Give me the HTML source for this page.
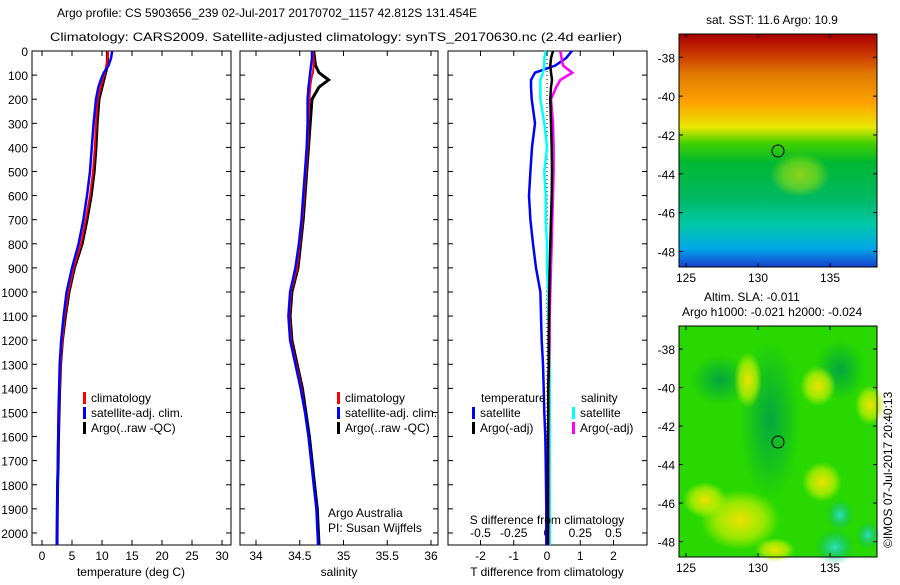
<!DOCTYPE html>
<html><head><meta charset="utf-8"><style>
body{margin:0;background:#fff;width:900px;height:580px;overflow:hidden;font-family:"Liberation Sans",sans-serif}
svg text{font-family:"Liberation Sans",sans-serif;font-size:12px;fill:#000}
</style></head><body>
<svg id="c" width="900" height="580">
<defs>
<linearGradient id="sst" x1="0" y1="0" x2="0" y2="1">
<stop offset="0" stop-color="#a80000"/><stop offset="0.08" stop-color="#c83000"/><stop offset="0.17" stop-color="#e07800"/>
<stop offset="0.3" stop-color="#ffa400"/><stop offset="0.4" stop-color="#e8e800"/><stop offset="0.47" stop-color="#40d000"/>
<stop offset="0.55" stop-color="#00b830"/><stop offset="0.7" stop-color="#00b860"/><stop offset="0.82" stop-color="#00c8a8"/>
<stop offset="0.92" stop-color="#00a8e8"/><stop offset="1" stop-color="#1840d0"/></linearGradient>
<radialGradient id="yb"><stop offset="0" stop-color="#f0e000"/><stop offset="0.6" stop-color="#c8f000" stop-opacity="0.7"/><stop offset="1" stop-color="#c8f000" stop-opacity="0"/></radialGradient>
<radialGradient id="gb"><stop offset="0" stop-color="#00a840"/><stop offset="1" stop-color="#00a840" stop-opacity="0"/></radialGradient>
<radialGradient id="cb"><stop offset="0" stop-color="#30e0c0"/><stop offset="1" stop-color="#00b080" stop-opacity="0"/></radialGradient>
</defs>
<text x="57" y="17" font-size="13" textLength="420" lengthAdjust="spacingAndGlyphs">Argo profile: CS 5903656_239 02-Jul-2017 20170702_1157 42.812S 131.454E</text>
<text x="50" y="41" font-size="14" textLength="572" lengthAdjust="spacingAndGlyphs">Climatology: CARS2009. Satellite-adjusted climatology: synTS_20170630.nc (2.4d earlier)</text>
<g id="p1"></g>
<g id="p2"></g>
<g id="p3"></g>
<g>
<text x="706" y="24">sat. SST: 11.6 Argo: 10.9</text>
<rect x="679" y="34" width="198" height="233" fill="url(#sst)"/>
<ellipse cx="800" cy="175" rx="30" ry="22" fill="url(#yb)" opacity="0.6"/>
<circle cx="778" cy="151" r="6" fill="none" stroke="#000"/>
<rect x="679" y="34" width="198" height="233" fill="none" stroke="#000"/>
</g>
<g>
<text x="704" y="301">Altim. SLA: -0.011</text>
<text x="682" y="316">Argo h1000: -0.021 h2000: -0.024</text>
<rect x="679" y="326" width="198" height="231" fill="#28d800"/>
<ellipse cx="770" cy="420" rx="30" ry="80" fill="url(#gb)"/><ellipse cx="720" cy="380" rx="30" ry="25" fill="url(#gb)"/>
<ellipse cx="840" cy="370" rx="25" ry="30" fill="url(#gb)"/>
<ellipse cx="748" cy="380" rx="14" ry="28" fill="url(#yb)"/><ellipse cx="818" cy="386" rx="18" ry="20" fill="url(#yb)"/>
<ellipse cx="870" cy="405" rx="15" ry="20" fill="url(#yb)"/><ellipse cx="822" cy="482" rx="20" ry="20" fill="url(#yb)"/>
<ellipse cx="740" cy="520" rx="40" ry="30" fill="url(#yb)"/><ellipse cx="775" cy="550" rx="20" ry="12" fill="url(#yb)"/>
<ellipse cx="705" cy="500" rx="22" ry="18" fill="url(#yb)"/>
<ellipse cx="835" cy="547" rx="20" ry="18" fill="url(#cb)"/><ellipse cx="840" cy="515" rx="14" ry="16" fill="url(#cb)"/>
<ellipse cx="868" cy="535" rx="12" ry="14" fill="url(#cb)"/>
<circle cx="778" cy="442" r="6" fill="none" stroke="#000"/>
<rect x="679" y="326" width="198" height="231" fill="none" stroke="#000"/>
</g>
<g id="maps"></g>
<text transform="translate(892,548) rotate(-90)" font-size="12">©IMOS 07-Jul-2017 20:40:13</text>
</svg>
<script>
const depths=[0,30,60,90,120,150,200,300,400,500,600,700,800,900,1000,1100,1200,1300,1400,1500,1600,1700,1800,1900,2050];
const tClim=[11,10.9,10.7,10.5,10.1,9.8,9.3,9,8.8,8.5,8,7.3,6.5,5.3,4.4,3.8,3.4,3.1,2.95,2.85,2.75,2.7,2.6,2.55,2.5];
const tSat=[11.7,11.5,11.1,10.3,9.8,9.4,9,8.6,8.3,8,7.5,6.9,6.1,5.0,4.1,3.6,3.2,2.95,2.85,2.75,2.7,2.65,2.6,2.55,2.5];
const tArgo=[10.9,10.9,10.9,10.6,10.3,10,9.5,9.2,9,8.7,8.2,7.5,6.7,5.4,4.5,3.9,3.4,3.1,2.95,2.85,2.75,2.7,2.6,2.55,2.5];
const sClim=[34.65,34.66,34.66,34.65,34.63,34.62,34.61,34.6,34.59,34.57,34.55,34.53,34.5,34.47,34.4,34.38,34.4,34.46,34.52,34.56,34.6,34.63,34.66,34.69,34.71];
const sSat=[34.64,34.64,34.63,34.62,34.61,34.6,34.59,34.59,34.58,34.56,34.54,34.52,34.49,34.45,34.39,34.37,34.39,34.45,34.51,34.56,34.6,34.63,34.66,34.69,34.71];
const sArgo=[34.66,34.67,34.68,34.72,34.83,34.72,34.64,34.62,34.6,34.58,34.56,34.54,34.51,34.48,34.41,34.39,34.41,34.47,34.53,34.57,34.61,34.64,34.67,34.7,34.72];
const dTsat=[0.75,0.57,0.25,-0.36,-0.48,-0.48,-0.46,-0.36,-0.45,-0.5,-0.54,-0.5,-0.42,-0.33,-0.2,-0.18,-0.16,-0.12,-0.1,-0.08,-0.05,-0.04,-0.03,-0.02,-0.02];
const dTargo=[0.18,0.12,0.1,0.12,0.15,0.12,0.1,0.12,0.14,0.15,0.14,0.12,0.1,0.08,0.07,0.06,0.05,0.05,0.04,0.04,0.03,0.03,0.03,0.03,0.03];
const dSsat=[-0.01,-0.02,-0.02,-0.03,-0.05,-0.05,-0.05,-0.02,0,-0.02,-0.01,-0.01,0,0,0.01,0.01,0.02,0.02,0.02,0.02,0.02,0.02,0.02,0.02,0.02];
const dSargo=[0.1,0.11,0.12,0.19,0.1,0.07,0.03,0.045,0.05,0.05,0.045,0.04,0.035,0.03,0.025,0.02,0.02,0.015,0.01,0.01,0.01,0.01,0.01,0.01,0.01];
const depthTicks=[0,100,200,300,400,500,600,700,800,900,1000,1100,1200,1300,1400,1500,1600,1700,1800,1900,2000];
const tTicks=[0,5,10,15,20,25,30];
const sTicks=[34,34.5,35,35.5,36];
const sTickLabels=["34","34.5","35","35.5","36"];
const dTTicks=[-2,-1,0,1,2];
const dSTicks=[-0.5,-0.25,0,0.25,0.5];
const dSLabels=["-0.5","-0.25","0","0.25","0.5"];
const lonTicks=[125,130,135];
const latTicks=[-38,-40,-42,-44,-46,-48];
const NS="http://www.w3.org/2000/svg";
function el(p,t,a){const e=document.createElementNS(NS,t);for(const k in a)e.setAttribute(k,a[k]);p.appendChild(e);return e;}
const Y0=51,Y1=545,yD=d=>Y0+d*(Y1-Y0)/2050;
function frame(g,x0,x1){const r=el(g,'rect',{x:x0,y:Y0,width:x1-x0,height:Y1-Y0,fill:'none',stroke:'#000'});

depthTicks.forEach(d=>{el(g,'line',{x1:x0,x2:x0+5,y1:yD(d),y2:yD(d),stroke:'#000'});el(g,'line',{x1:x1-5,x2:x1,y1:yD(d),y2:yD(d),stroke:'#000'});});}
function xticks(g,vals,labels,fx,ly){vals.forEach((v,i)=>{const x=fx(v);
el(g,'line',{x1:x,x2:x,y1:Y1-5,y2:Y1,stroke:'#000'});el(g,'line',{x1:x,x2:x,y1:Y0,y2:Y0+5,stroke:'#000'});
const t=el(g,'text',{x:x,y:ly,'text-anchor':'middle'});t.textContent=labels[i];
});}
function line(g,xs,fx,col,w,name){const pts=xs.map((v,i)=>fx(v).toFixed(1)+','+yD(depths[i]).toFixed(1)).join(' ');
const p=el(g,'polyline',{points:pts,fill:'none',stroke:col,'stroke-width':w});
}
function txt(g,x,y,s,name,anchor){const t=el(g,'text',{x:x,y:y,'text-anchor':anchor||'start'});t.textContent=s;
return t;}
function legend(g,x,y,items){items.forEach((it,i)=>{el(g,'rect',{x:x,y:y+i*15-10,width:3,height:12,fill:it[0]});txt(g,x+8,y+i*15,it[1],'legend-entry');});}
// panel 1
const p1=document.getElementById('p1');const fT=v=>42+v*6;
frame(p1,32,231);xticks(p1,tTicks,tTicks.map(String),fT,560);
depthTicks.forEach(d=>txt(p1,28,yD(d)+5,String(d),'y-tick-label','end'));
line(p1,tArgo,fT,'#000',3,'temp-argo-line');line(p1,tClim,fT,'#f00',2,'temp-clim-line');line(p1,tSat,fT,'#00f',2.5,'temp-sat-line');
legend(p1,83,402,[['#f00','climatology'],['#00f','satellite-adj. clim.'],['#000','Argo(..raw -QC)']]);
txt(p1,131,576,'temperature (deg C)','x-axis-title','middle');
// panel 2
const p2=document.getElementById('p2');const fS=v=>256+(v-34)*87.5;
frame(p2,240,438);xticks(p2,sTicks,sTickLabels,fS,560);
line(p2,sArgo,fS,'#000',3,'sal-argo-line');line(p2,sClim,fS,'#f00',2,'sal-clim-line');line(p2,sSat,fS,'#00f',2.5,'sal-sat-line');
legend(p2,337,402,[['#f00','climatology'],['#00f','satellite-adj. clim.'],['#000','Argo(..raw -QC)']]);
txt(p2,328,517,'Argo Australia','credit-1');txt(p2,328,532,'PI: Susan Wijffels','credit-2');
txt(p2,339,576,'salinity','x-axis-title','middle');
// panel 3
const p3=document.getElementById('p3');const fdT=v=>547+v*33.25;const fdS=v=>547+v*133;
frame(p3,448,647);xticks(p3,dTTicks,dTTicks.map(String),fdT,560);
dSTicks.forEach((v,i)=>{const x=fdS(v);txt(p3,x,537,dSLabels[i],'s-tick-label','middle');});
el(p3,'line',{x1:547,x2:547,y1:Y0,y2:Y1,stroke:'#000','stroke-dasharray':'1,3'});
line(p3,dTsat,fdT,'#00f',2.5,'dT-sat-line');line(p3,dSsat,fdS,'#0ff',2.5,'dS-sat-line');
line(p3,dSargo,fdS,'#f0f',2.5,'dS-argo-line');line(p3,dTargo,fdT,'#000',2.5,'dT-argo-line');
txt(p3,481,402,'temperature','legend-title');txt(p3,581,402,'salinity','legend-title');
legend(p3,472,417,[['#00f','satellite'],['#000','Argo(-adj)']]);
legend(p3,572,417,[['#0ff','satellite'],['#f0f','Argo(-adj)']]);
txt(p3,547,524,'S difference from climatology','s-axis-title','middle');
txt(p3,547,576,'T difference from climatology','x-axis-title','middle');
// maps axes
const mp=document.getElementById('maps');const fLon=v=>686+(v-125)*14.4;
[[34,267],[326,557]].forEach(([a,b])=>{const fLat=v=>a+(-36.8-v)*(b-a)/12;
lonTicks.forEach(v=>{const x=fLon(v);el(mp,'line',{x1:x,x2:x,y1:a,y2:a+4,stroke:'#000'});el(mp,'line',{x1:x,x2:x,y1:b-4,y2:b,stroke:'#000'});txt(mp,x,b+15,String(v),'lon-tick-label','middle');});
latTicks.forEach(v=>{const y=fLat(v);el(mp,'line',{x1:679,x2:683,y1:y,y2:y,stroke:'#000'});el(mp,'line',{x1:873,x2:877,y1:y,y2:y,stroke:'#000'});txt(mp,675,y+5,String(v),'lat-tick-label','end');});});
</script>
</body></html>
